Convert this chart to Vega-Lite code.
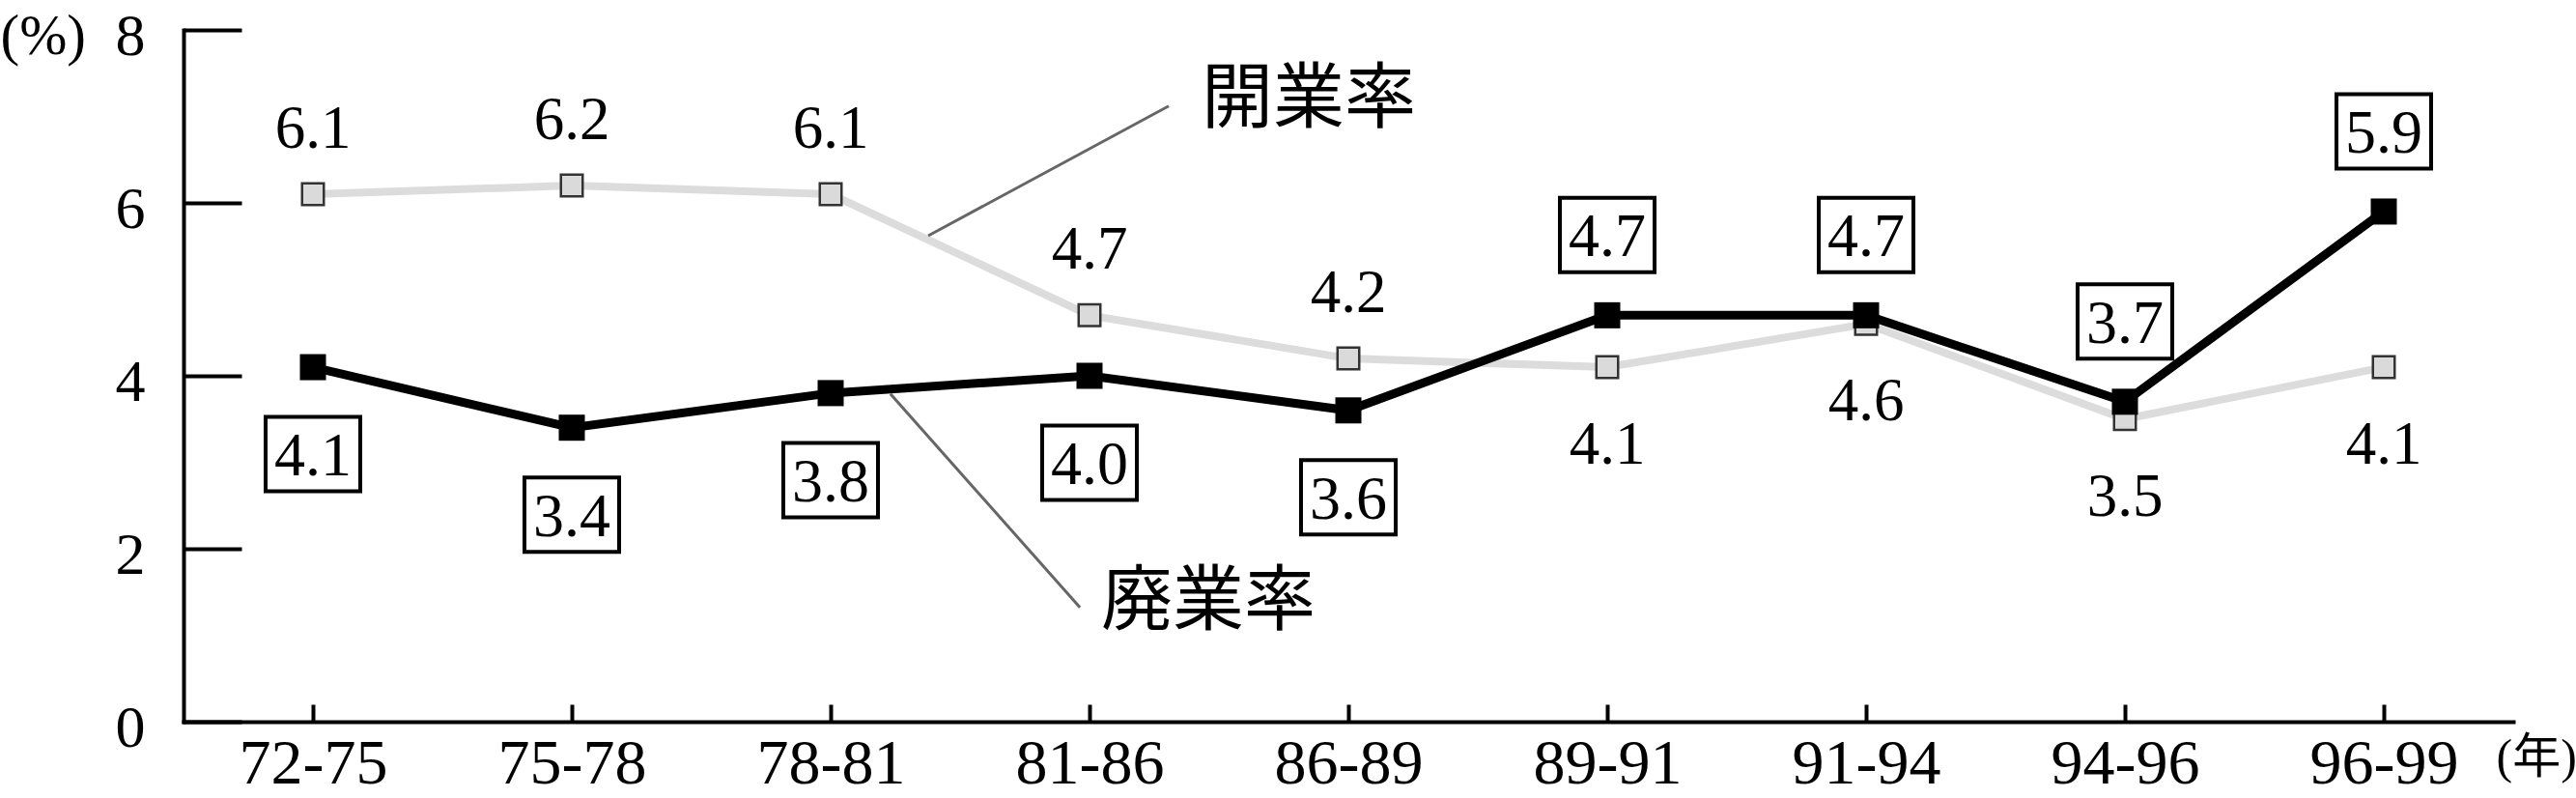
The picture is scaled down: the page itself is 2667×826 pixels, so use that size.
{
  "$schema": "https://vega.github.io/schema/vega-lite/v6.json",
  "autosize": {"type": "none"},
  "padding": {"left": 190, "top": 31, "right": 65, "bottom": 79},
  "width": 2412,
  "height": 716,
  "background": "white",
  "config": {
    "view": {"stroke": null},
    "axis": {
      "grid": false,
      "domainColor": "black",
      "domainWidth": 4,
      "domainCap": "square",
      "tickColor": "black",
      "tickWidth": 4,
      "labelColor": "black",
      "labelFont": "Liberation Serif",
      "titleColor": "black",
      "titleFontWeight": "normal"
    }
  },
  "datasets": {
    "rates": [
      {"period": "72-75", "series": "開業率", "value": 6.1, "pos": "above"},
      {"period": "75-78", "series": "開業率", "value": 6.2, "pos": "above"},
      {"period": "78-81", "series": "開業率", "value": 6.1, "pos": "above"},
      {"period": "81-86", "series": "開業率", "value": 4.7, "pos": "above"},
      {"period": "86-89", "series": "開業率", "value": 4.2, "pos": "above"},
      {"period": "89-91", "series": "開業率", "value": 4.1, "pos": "below"},
      {"period": "91-94", "series": "開業率", "value": 4.6, "pos": "below"},
      {"period": "94-96", "series": "開業率", "value": 3.5, "pos": "below"},
      {"period": "96-99", "series": "開業率", "value": 4.1, "pos": "below"},
      {"period": "72-75", "series": "廃業率", "value": 4.1, "pos": "below"},
      {"period": "75-78", "series": "廃業率", "value": 3.4, "pos": "below"},
      {"period": "78-81", "series": "廃業率", "value": 3.8, "pos": "below"},
      {"period": "81-86", "series": "廃業率", "value": 4.0, "pos": "below"},
      {"period": "86-89", "series": "廃業率", "value": 3.6, "pos": "below"},
      {"period": "89-91", "series": "廃業率", "value": 4.7, "pos": "above"},
      {"period": "91-94", "series": "廃業率", "value": 4.7, "pos": "above"},
      {"period": "94-96", "series": "廃業率", "value": 3.7, "pos": "above"},
      {"period": "96-99", "series": "廃業率", "value": 5.9, "pos": "above"}
    ],
    "leaders": [
      {"name": "開業率", "xi": 2.377, "y": 5.62, "xi2": 3.306, "y2": 7.12},
      {"name": "廃業率", "xi": 2.231, "y": 3.79, "xi2": 2.963, "y2": 1.32}
    ],
    "names": [
      {"name": "開業率", "xi": 3.433, "y": 7.18},
      {"name": "廃業率", "xi": 3.045, "y": 1.37}
    ]
  },
  "layer": [
    {
      "data": {"name": "rates"},
      "encoding": {
        "x": {
          "field": "period",
          "type": "ordinal",
          "sort": null,
          "scale": {"type": "point", "padding": 0.5},
          "axis": {
            "title": "(年)",
            "titleFont": "Liberation Serif, Noto Sans CJK JP",
            "titleFontSize": 50,
            "titleAlign": "left",
            "titleBaseline": "middle",
            "titleX": 2394,
            "titleY": 37,
            "labelAngle": 0,
            "labelFontSize": 66,
            "tickSize": -18,
            "labelPadding": 29
          }
        },
        "y": {
          "field": "value",
          "type": "quantitative",
          "scale": {"domain": [0, 8], "nice": false, "zero": true},
          "axis": {
            "values": [0, 2, 4, 6, 8],
            "format": "d",
            "title": "(%)",
            "titleFont": "Liberation Serif",
            "titleFontSize": 59,
            "titleAngle": 0,
            "titleAlign": "left",
            "titleBaseline": "middle",
            "titleX": -190,
            "titleY": 6,
            "labelFontSize": 62,
            "labelBaseline": "alphabetic",
            "labelOffset": 25,
            "tickSize": -60,
            "labelPadding": 100
          }
        }
      },
      "layer": [
        {
          "transform": [{"filter": "datum.series === '開業率'"}],
          "mark": {"type": "line", "color": "#dcdcdc", "strokeWidth": 8}
        },
        {
          "transform": [{"filter": "datum.series === '開業率'"}],
          "mark": {"type": "point", "shape": "square", "size": 506, "filled": true, "fill": "#dadada", "stroke": "#333333", "strokeWidth": 2.5, "opacity": 1}
        },
        {
          "transform": [{"filter": "datum.series === '廃業率'"}],
          "mark": {"type": "line", "color": "black", "strokeWidth": 9}
        },
        {
          "transform": [{"filter": "datum.series === '廃業率'"}],
          "mark": {"type": "point", "shape": "square", "size": 729, "filled": true, "fill": "black", "strokeWidth": 0, "opacity": 1}
        },
        {
          "transform": [{"filter": "datum.series === '開業率' && datum.pos === 'above'"}],
          "mark": {"type": "text", "font": "Liberation Serif", "fontSize": 63, "align": "center", "baseline": "alphabetic", "dy": -48, "color": "black"},
          "encoding": {"text": {"field": "value", "type": "quantitative", "format": ".1f"}}
        },
        {
          "transform": [{"filter": "datum.series === '開業率' && datum.pos === 'below'"}],
          "mark": {"type": "text", "font": "Liberation Serif", "fontSize": 63, "align": "center", "baseline": "alphabetic", "dy": 100, "color": "black"},
          "encoding": {"text": {"field": "value", "type": "quantitative", "format": ".1f"}}
        },
        {
          "transform": [{"filter": "datum.series === '廃業率' && datum.pos === 'above'"}],
          "mark": {"type": "point", "shape": "M-1.273,-1L1.273,-1L1.273,1L-1.273,1Z", "size": 5929, "filled": true, "fill": "white", "stroke": "black", "strokeWidth": 4, "opacity": 1, "yOffset": -83}
        },
        {
          "transform": [{"filter": "datum.series === '廃業率' && datum.pos === 'below'"}],
          "mark": {"type": "point", "shape": "M-1.273,-1L1.273,-1L1.273,1L-1.273,1Z", "size": 5929, "filled": true, "fill": "white", "stroke": "black", "strokeWidth": 4, "opacity": 1, "yOffset": 90}
        },
        {
          "transform": [{"filter": "datum.series === '廃業率' && datum.pos === 'above'"}],
          "mark": {"type": "text", "font": "Liberation Serif", "fontSize": 64, "align": "center", "baseline": "alphabetic", "dy": -61, "color": "black"},
          "encoding": {"text": {"field": "value", "type": "quantitative", "format": ".1f"}}
        },
        {
          "transform": [{"filter": "datum.series === '廃業率' && datum.pos === 'below'"}],
          "mark": {"type": "text", "font": "Liberation Serif", "fontSize": 64, "align": "center", "baseline": "alphabetic", "dy": 112, "color": "black"},
          "encoding": {"text": {"field": "value", "type": "quantitative", "format": ".1f"}}
        }
      ]
    },
    {
      "data": {"name": "leaders"},
      "mark": {"type": "rule", "color": "#666666", "strokeWidth": 3},
      "encoding": {
        "x": {"field": "xi", "type": "quantitative", "scale": {"domain": [-0.5, 8.5], "nice": false, "zero": false}, "axis": null},
        "x2": {"field": "xi2"},
        "y": {"field": "y", "type": "quantitative"},
        "y2": {"field": "y2"}
      }
    },
    {
      "data": {"name": "names"},
      "mark": {"type": "text", "font": "Noto Sans CJK JP", "fontSize": 74, "align": "left", "baseline": "middle", "color": "black"},
      "encoding": {
        "x": {"field": "xi", "type": "quantitative", "scale": {"domain": [-0.5, 8.5], "nice": false, "zero": false}, "axis": null},
        "y": {"field": "y", "type": "quantitative"},
        "text": {"field": "name"}
      }
    }
  ],
  "resolve": {"scale": {"x": "independent"}}
}
